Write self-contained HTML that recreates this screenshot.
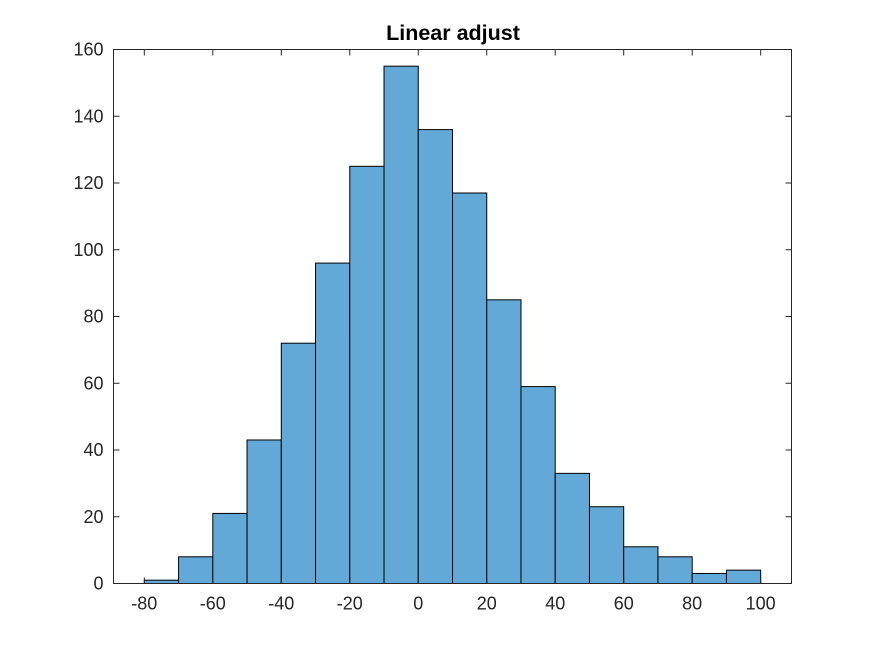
<!DOCTYPE html>
<html><head><meta charset="utf-8"><style>
body{margin:0;background:#fff}
svg{display:block}
text{font-family:"Liberation Sans",Arial,sans-serif;fill:#262626}
</style></head><body>
<svg id="chart" width="875" height="656" viewBox="0 0 875 656">
<text x="453" y="40" text-anchor="middle" font-size="21.5" font-weight="bold" style="fill:#000">Linear adjust</text>
<g id="bars"></g>
<rect x="113.5" y="49.5" width="678" height="534" fill="none" stroke="#262626" stroke-width="1"/>
<g id="axes"></g>
</svg>
<script>
const binEdges=[-80,-70,-60,-50,-40,-30,-20,-10,0,10,20,30,40,50,60,70,80,90,100];
const counts=[1,8,21,43,72,96,125,155,136,117,85,59,33,23,11,8,3,4];
const xTicks=[-80,-60,-40,-20,0,20,40,60,80,100];
const yTicks=[0,20,40,60,80,100,120,140,160];
const xMin=-89,xMax=109,yMin=0,yMax=160;
const L=113.5,R=791.5,T=49.5,B=583.5;
const sx=v=>L+(v-xMin)/(xMax-xMin)*(R-L);
const sy=v=>B-(v-yMin)/(yMax-yMin)*(B-T);
const NS="http://www.w3.org/2000/svg";
const bars=document.getElementById('bars'),axes=document.getElementById('axes');
counts.forEach((c,i)=>{
  const r=document.createElementNS(NS,'rect');
  r.setAttribute('x',sx(binEdges[i]));r.setAttribute('y',sy(c));
  r.setAttribute('width',sx(binEdges[i+1])-sx(binEdges[i]));r.setAttribute('height',sy(0)-sy(c));
  r.setAttribute('fill','#63a9d8');r.setAttribute('stroke','#000');r.setAttribute('stroke-width','1');
  
  
  bars.appendChild(r);
});
xTicks.forEach(v=>{
  const x=sx(v);
  [[B,B-6],[T,T+6]].forEach(p=>{const l=document.createElementNS(NS,'line');
    l.setAttribute('x1',x);l.setAttribute('x2',x);l.setAttribute('y1',p[0]);l.setAttribute('y2',p[1]);l.setAttribute('stroke','#262626');
    
    
    axes.appendChild(l);});
  const t=document.createElementNS(NS,'text');
  t.setAttribute('x',x);t.setAttribute('y',B+26);t.setAttribute('text-anchor','middle');t.setAttribute('font-size','18');
  t.textContent=v;
  
  
  axes.appendChild(t);
});
yTicks.forEach(v=>{
  const y=sy(v);
  [[L,L+6],[R,R-6]].forEach(p=>{const l=document.createElementNS(NS,'line');
    l.setAttribute('x1',p[0]);l.setAttribute('x2',p[1]);l.setAttribute('y1',y);l.setAttribute('y2',y);l.setAttribute('stroke','#262626');
    
    
    axes.appendChild(l);});
  const t=document.createElementNS(NS,'text');
  t.setAttribute('x',L-10);t.setAttribute('y',y+6);t.setAttribute('text-anchor','end');t.setAttribute('font-size','18');
  t.textContent=v;
  
  
  axes.appendChild(t);
});
</script>
</body></html>
